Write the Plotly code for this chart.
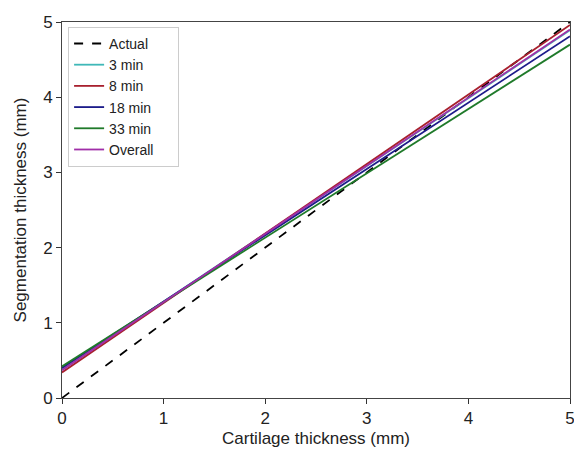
import plotly.graph_objects as go

x_vals = [0, 5]
actual = [0, 5]
series_names = ["3 min", "8 min", "18 min", "33 min", "Overall"]
series_start = [0.38, 0.34, 0.40, 0.42, 0.37]
series_end = [4.89, 4.96, 4.81, 4.70, 4.90]
series_colors = ["#3fb8b8", "#a8202e", "#1c1c8a", "#1f7a2a", "#a02ea8"]

pad = "\u00a0" * 5
fig = go.Figure()
fig.add_trace(go.Scatter(x=x_vals, y=actual, mode="lines", name="Actual" + pad,
                         line=dict(color="black", width=1.8, dash="dash")))
for name, s, e, c in zip(series_names, series_start, series_end, series_colors):
    fig.add_trace(go.Scatter(x=x_vals, y=[s, e], mode="lines", name=name + pad,
                             line=dict(color=c, width=1.8)))

axis_common = dict(range=[0, 5], tickvals=[0, 1, 2, 3, 4, 5], ticks="outside",
                   ticklen=5, tickcolor="#333", showline=True, linecolor="#444",
                   linewidth=1, mirror=True, showgrid=False, zeroline=False,
                   ticklabeloverflow="allow", automargin=False,
                   tickfont=dict(size=17, color="#222"))
fig.update_xaxes(**axis_common, title=dict(text="Cartilage thickness (mm)", font=dict(size=17, color="#222"), standoff=4))
fig.update_yaxes(**axis_common, title=dict(text="Segmentation thickness (mm)", font=dict(size=17, color="#222"), standoff=12))

fig.update_layout(width=574, height=449, margin=dict(l=62, r=4, t=22, b=51),
                  plot_bgcolor="white", paper_bgcolor="white",
                  font=dict(family="Liberation Sans, Arial, sans-serif", color="#222"),
                  legend=dict(x=0.012, y=0.987, xanchor="left", yanchor="top",
                              bordercolor="#ccc", borderwidth=1, bgcolor="white",
                              font=dict(size=14), tracegroupgap=0, itemwidth=30))
fig.write_html("out.html", config={"displayModeBar": False},
               post_script="document.body.style.margin='0';document.body.style.overflow='hidden';")
